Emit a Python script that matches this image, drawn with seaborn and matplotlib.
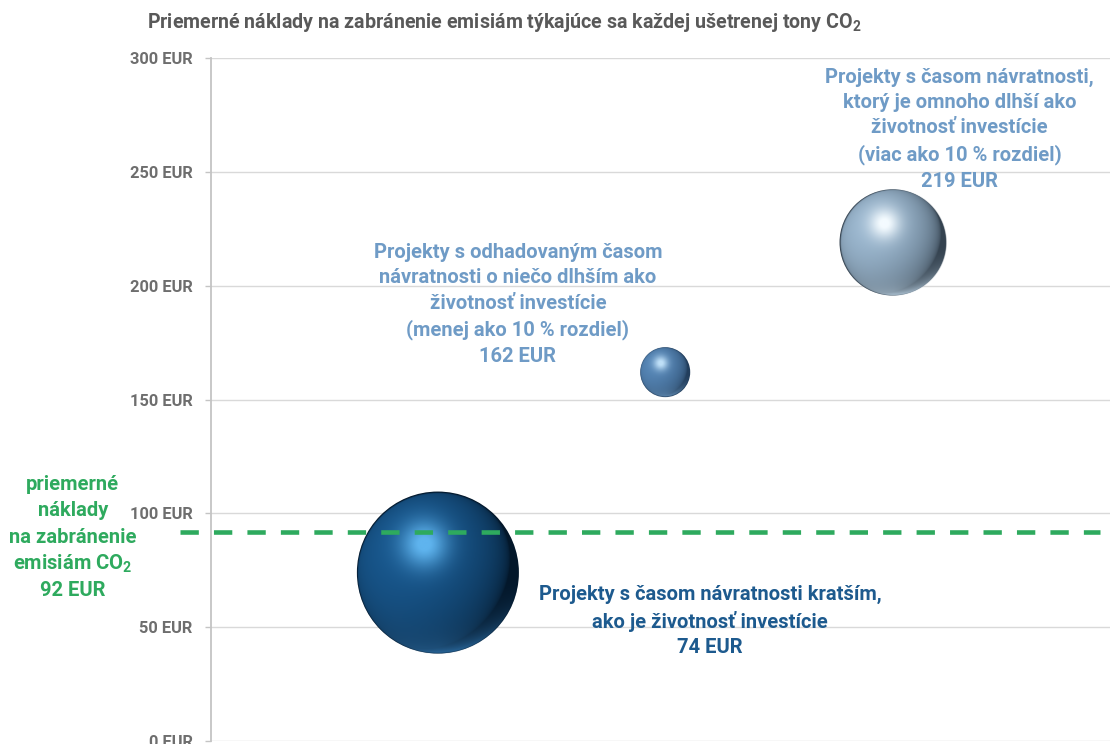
import numpy as np
import pandas as pd
import seaborn as sns
import matplotlib.pyplot as plt
from matplotlib.colors import to_rgb

# Data
groups = [
    "Projekty s časom návratnosti kratším,\nako je životnosť investície",
    "Projekty s odhadovaným časom\nnávratnosti o niečo dlhším ako\nživotnosť investície\n(menej ako 10 % rozdiel)",
    "Projekty s časom návratnosti,\nktorý je omnoho dlhší ako\nživotnosť investície\n(viac ako 10 % rozdiel)",
]
positions = [1, 2, 3]
cost_eur = [74, 162, 219]
bubble_weight = [100, 9.5, 43]
average_cost = 92
average_label = ["priemerné", "náklady", "na zabránenie", "emisiám CO$_2$"]
y_ticks = [0, 50, 100, 150, 200, 250, 300]

FONT = "Roboto"
sns.set_theme(style="white")
plt.rcParams["font.family"] = [FONT, "DejaVu Sans"]
plt.rcParams["mathtext.fontset"] = "custom"
plt.rcParams["mathtext.bf"] = f"{FONT}:bold"
plt.rcParams["mathtext.rm"] = f"{FONT}:bold"
plt.rcParams["mathtext.default"] = "bf"

DPI = 100
fig = plt.figure(figsize=(11.1, 7.44), dpi=DPI)
ax_box = [210.5 / 1110, 3 / 744, 899.5 / 1110, 683 / 744]
ax = fig.add_axes(ax_box)
XLIM = (0, 3.956)
YLIM = (0, 300)
ax.set_xlim(*XLIM)
ax.set_ylim(*YLIM)

df = pd.DataFrame({"pos": positions, "cost": cost_eur, "w": bubble_weight,
                   "g": ["a", "b", "c"]})

# sphere colours: rim (shadow side), body, highlight, bottom reflection
sphere_cols = [
    ("#03172a", "#18578d", "#5fb4ee", "#2c6ca2"),
    ("#223e5c", "#5686b6", "#bfe0f8", "#6f9cc6"),
    ("#34424f", "#9cb8d0", "#f4fbff", "#b9cfe0"),
]

area_scale = 136.0  # points^2 per unit of weight

# base disks through seaborn (shadow colour, covered by the shaded sphere)
sns.scatterplot(data=df, x="pos", y="cost", hue="g",
                palette=[c[0] for c in sphere_cols], size="w",
                sizes=(min(bubble_weight) * area_scale, max(bubble_weight) * area_scale),
                size_norm=(min(bubble_weight), max(bubble_weight)),
                linewidth=0, legend=False, ax=ax, zorder=3)

px_per_x = ax_box[2] * fig.get_figwidth() * DPI / (XLIM[1] - XLIM[0])
px_per_y = ax_box[3] * fig.get_figheight() * DPI / (YLIM[1] - YLIM[0])


def sphere_image(cols, r_px, n=320):
    rim, body, light, refl = [np.array(to_rgb(c)) for c in cols]
    g = np.linspace(-1, 1, n)
    u, v = np.meshgrid(g, g)  # v grows upward with origin='lower'
    rr = np.sqrt(u ** 2 + v ** 2)
    z = np.sqrt(np.clip(1 - rr ** 2, 0, 1))
    L = np.array([-0.45, 0.35, 0.82])
    L = L / np.linalg.norm(L)
    diff = np.clip(u * L[0] + v * L[1] + z * L[2], 0, 1)
    d = diff ** 0.55
    col = rim[None, None, :] * (1 - d[..., None]) + body[None, None, :] * d[..., None]
    # soft reflected light near the lower edge
    rf = np.clip(-v, 0, 1) ** 2 * np.clip(1 - z, 0, 1) ** 0.8 * np.clip(1 + 0.6 * u, 0, 1)
    rf = np.clip(rf * 1.1, 0, 0.85)
    col = col * (1 - rf[..., None]) + refl[None, None, :] * rf[..., None]
    # specular highlight
    h = np.exp(-((u + 0.17) ** 2 + (v - 0.36) ** 2) / (2 * 0.23 ** 2))
    h = np.clip(h * 1.05, 0, 1) ** 1.3
    col = col * (1 - h[..., None]) + light[None, None, :] * h[..., None]
    edge = np.clip((1 - rr) * r_px, 0, 1)
    return np.dstack([np.clip(col, 0, 1), edge])


for p, c, w, cols in zip(positions, cost_eur, bubble_weight, sphere_cols):
    s = w * area_scale
    r_px = np.sqrt(s) / 2 * DPI / 72
    rx, ry = r_px / px_per_x, r_px / px_per_y
    ax.imshow(sphere_image(cols, r_px), extent=[p - rx, p + rx, c - ry, c + ry],
              origin="lower", aspect="auto", interpolation="bilinear", zorder=4)

ax.set_xlim(*XLIM)
ax.set_ylim(*YLIM)

# axes
ax.set_yticks(y_ticks)
ax.set_yticklabels([f"{v} EUR" for v in y_ticks])
ax.set_xticks([])
ax.set_xlabel("")
ax.set_ylabel("")
ax.yaxis.grid(True, color="#d9d9d9", linewidth=1.0)
ax.set_axisbelow(True)
for s in ["top", "right", "bottom"]:
    ax.spines[s].set_visible(False)
ax.spines["left"].set_color("#c4c4c4")
ax.spines["left"].set_linewidth(1.3)
ax.tick_params(axis="y", which="major", left=True, length=4, width=1, color="#c4c4c4",
               labelsize=11.9, labelcolor="#6e6e6e", pad=9)
for lab in ax.get_yticklabels():
    lab.set_fontweight("bold")

# average cost line
ax.plot([-0.134, 3.91], [average_cost, average_cost], color="#2eaa5e", lw=3.3,
        dashes=(4.0, 3.3), clip_on=False, zorder=6)

# labels
light_blue = "#6f9bc6"
dark_blue = "#1d5a8e"
green = "#2eaa5e"
fs = 14.5
ls = 1.43
ax.text(3.295, 268.8, groups[2] + f"\n{cost_eur[2]} EUR", ha="center", va="center",
        color=light_blue, fontsize=fs, fontweight="bold", linespacing=ls)
ax.text(1.352, 191.9, groups[1] + f"\n{cost_eur[1]} EUR", ha="center", va="center",
        color=light_blue, fontsize=fs, fontweight="bold", linespacing=ls)
ax.text(2.196, 52.7, groups[0] + f"\n{cost_eur[0]} EUR", ha="center", va="center",
        color=dark_blue, fontsize=fs, fontweight="bold", linespacing=ls)

# average-cost caption, one line at a time, stacked 26.5 px apart
green_lines = average_label + [f"{average_cost} EUR"]
step_pt = 26.5 * 72 / DPI
for i, line in enumerate(green_lines):
    ax.annotate(line, xy=(-0.605, 89.6), xycoords="data",
                xytext=(0, (2 - i) * step_pt), textcoords="offset points",
                ha="center", va="center", color=green, fontsize=fs,
                fontweight="bold", annotation_clip=False)

fig.text(147 / 1110, 1 - 23 / 744,
         "Priemerné náklady na zabránenie emisiám týkajúce sa každej ušetrenej tony CO$_2$",
         ha="left", va="center", color="#595959", fontsize=14.15, fontweight="bold")

fig.savefig("out.png", dpi=DPI)
